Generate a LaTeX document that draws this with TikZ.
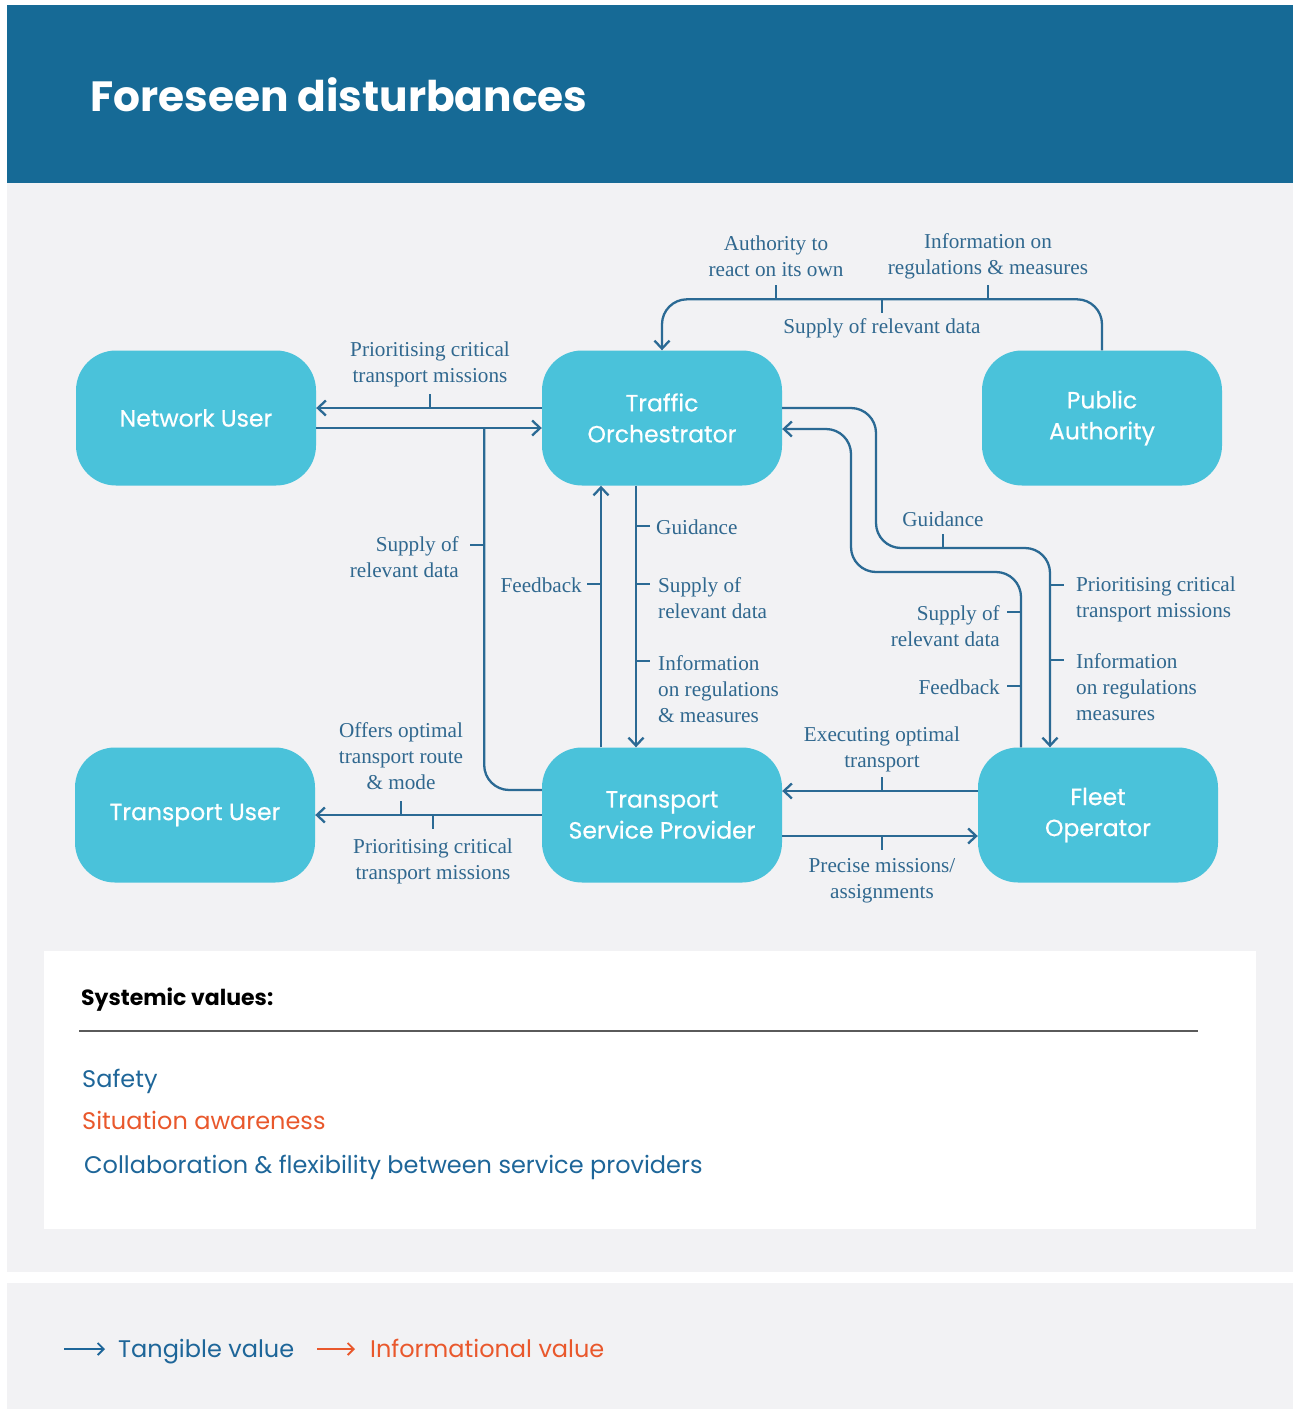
\documentclass[tikz,border=0pt]{standalone}
\usepackage{fontspec}
\setmainfont{Liberation Serif}
\setsansfont{Poppins}
\newfontfamily\actorfont{Poppins}[FakeBold=0.5]
\usetikzlibrary{arrows.meta,calc}

\definecolor{headblue}{HTML}{166A96}
\definecolor{panelgray}{HTML}{F2F2F4}
\definecolor{actorfill}{HTML}{4AC2DA}
\definecolor{flowblue}{HTML}{2B6A94}
\definecolor{labelblue}{HTML}{30688F}
\definecolor{valueblue}{HTML}{1E6699}
\definecolor{valueorange}{HTML}{E9582C}
\definecolor{rulegray}{HTML}{5A5A5A}

\begin{document}
\begin{tikzpicture}[x=1pt,y=-1pt,
  actor/.style={rounded corners=40pt, fill=actorfill, minimum width=240pt,
    minimum height=135pt, text=white, align=center, inner sep=0pt,
    font=\actorfont\fontsize{23.5}{31}\selectfont},
  flow/.style={draw=flowblue, line width=2.3pt,
    -{Straight Barb[length=8pt,width=15pt]}},
  flowline/.style={draw=flowblue, line width=2.3pt},
  tick/.style={draw=flowblue, line width=2.3pt},
  lbl/.style={text=labelblue, align=center, inner sep=0pt,
    font=\fontsize{21.2}{26}\selectfont},
  valtext/.style={anchor=base west, inner sep=0pt,
    font=\sffamily\fontsize{24}{28}\selectfont},
  legarrow/.style={line width=1.8pt, -{Straight Barb[length=6pt,width=12pt]}}
]
\useasboundingbox (0,0) rectangle (1293,1409);

% page background, header band and panels
\fill[white] (0,0) rectangle (1293,1409);
\fill[headblue] (7,5) rectangle (1293,183);
\fill[panelgray] (7,183) rectangle (1293,1272);
\fill[panelgray] (7,1283) rectangle (1293,1409);
\fill[white] (44,951) rectangle (1256,1229);

\node[anchor=base west, inner sep=0pt, text=white,
  font=\sffamily\bfseries\fontsize{42.3}{48}\selectfont] (title) at (90,111)
  {Foreseen disturbances};

% actors
\node[actor] (nu)  at (196,418) {Network User};
\node[actor] (to)  at (662,418) {Traffic\\Orchestrator};
\node[actor] (pa)  at (1102,418) {Public\\Authority};
\node[actor] (tu)  at (195,815) {Transport User};
\node[actor] (tsp) at (662,815) {Transport\\Service Provider};
\node[actor] (fo)  at (1098,815) {Fleet\\Operator};

% Traffic Orchestrator <-> Network User
\draw[flow] ($(to.west)+(0,-10)$) -- ($(nu.east)+(0,-10)$);
\draw[flow] ($(nu.east)+(0,10)$) -- ($(to.west)+(0,10)$);
\draw[tick] (430,408) -- (430,394);
\node[lbl] (l1) at (430,364) {Prioritising critical\\transport missions};

% Transport Service Provider -> Traffic Orchestrator (data, joins the line above)
\draw[flowline, rounded corners=25pt] ($(tsp.west)+(0,-25)$) -| ($(nu.east)+(168,10)$);
\draw[tick] (484,545) -- (470,545);
\node[lbl, anchor=east, align=right] (l2) at (459,557) {Supply of\\relevant data};

% feedback up to the Traffic Orchestrator
\draw[flow] ($(tsp.north)+(-61,0)$) -- ($(to.south)+(-61,0)$);
\draw[tick] (601,584) -- (587,584);
\node[lbl, anchor=east] (l3) at (582,585) {Feedback};

% Traffic Orchestrator down to the Transport Service Provider
\draw[flow] ($(to.south)+(-26,0)$) -- ($(tsp.north)+(-26,0)$);
\draw[tick] (636,526) -- (650,526);
\draw[tick] (636,584) -- (650,584);
\draw[tick] (636,661) -- (650,661);
\node[lbl, anchor=west] (l4) at (656,527) {Guidance};
\node[lbl, anchor=west, align=left] (l5) at (658,598) {Supply of\\relevant data};
\node[lbl, anchor=west, align=left] (l6) at (658,689) {Information\\on regulations\\\& measures};

% Public Authority -> Traffic Orchestrator
\draw[flow, rounded corners=25pt] (pa.north) -- ++(0,-51) -| (to.north);
\draw[tick] (776,299) -- (776,285);
\draw[tick] (882,299) -- (882,313);
\draw[tick] (988,299) -- (988,285);
\node[lbl] (l7) at (776,256) {Authority to\\react on its own};
\node[lbl] (l8) at (988,256) {Information on\\regulations \& measures};
\node[lbl] (l9) at (882,328) {Supply of relevant data};

% Traffic Orchestrator -> Fleet Operator
\draw[flow, rounded corners=25pt] ($(to.east)+(0,-10)$) -| (876,548) -| ($(fo.north)+(-48,0)$);
\draw[tick] (943,548) -- (943,534);
\draw[tick] (1050,585) -- (1064,585);
\draw[tick] (1050,660) -- (1064,660);
\node[lbl] (l10) at (943,519) {Guidance};
\node[lbl, anchor=west, align=left] (l11) at (1076,599) {Prioritising critical\\transport missions};
\node[lbl, anchor=west, align=left] (l12) at (1076,687) {Information\\on regulations\\measures};

% Fleet Operator -> Traffic Orchestrator
\draw[flow, rounded corners=25pt] ($(fo.north)+(-77,0)$) |- (851,572) |- ($(to.east)+(0,11)$);
\draw[tick] (1021,612) -- (1007,612);
\draw[tick] (1021,686) -- (1007,686);
\node[lbl, anchor=east, align=right] (l13) at (1000,626) {Supply of\\relevant data};
\node[lbl, anchor=east] (l14) at (1000,687) {Feedback};

% Fleet Operator <-> Transport Service Provider
\draw[flow] ($(fo.west)+(0,-24)$) -- ($(tsp.east)+(0,-24)$);
\draw[flow] ($(tsp.east)+(0,21)$) -- ($(fo.west)+(0,21)$);
\draw[tick] (882,791) -- (882,777);
\draw[tick] (882,836) -- (882,850);
\node[lbl] (l15) at (882,749) {Executing optimal\\transport};
\node[lbl] (l16) at (882,881) {Precise missions/\\assignments};

% Transport Service Provider -> Transport User
\draw[flow] (tsp.west) -- (tu.east);
\draw[tick] (401,815) -- (401,801);
\draw[tick] (433,815) -- (433,829);
\node[lbl] (l17) at (401,756) {Offers optimal\\transport route\\\& mode};
\node[lbl] (l18) at (433,861) {Prioritising critical\\transport missions};

% systemic values
\node[anchor=base west, inner sep=0pt, text=black,
  font=\sffamily\bfseries\fontsize{22}{26}\selectfont] (sv) at (81,1005) {Systemic values:};
\coordinate (rulea) at (79,1031);
\coordinate (ruleb) at (1198,1031);
\draw[rulegray, line width=1.5pt] (rulea) -- (ruleb);
\node[valtext, text=valueblue] (v1) at (82,1087) {Safety};
\node[valtext, text=valueorange] (v2) at (82,1129) {Situation awareness};
\node[valtext, text=valueblue] (v3) at (84,1173) {Collaboration \& flexibility between service providers};

% legend
\coordinate (ta) at (64,1349);
\coordinate (tb) at (105,1349);
\coordinate (ia) at (317,1349);
\coordinate (ib) at (355,1349);
\draw[legarrow, valueblue] (ta) -- (tb);
\node[valtext, text=valueblue] (lt) at (118,1357) {Tangible value};
\draw[legarrow, valueorange] (ia) -- (ib);
\node[valtext, text=valueorange] (li) at (370,1357) {Informational value};
\end{tikzpicture}
\end{document}
